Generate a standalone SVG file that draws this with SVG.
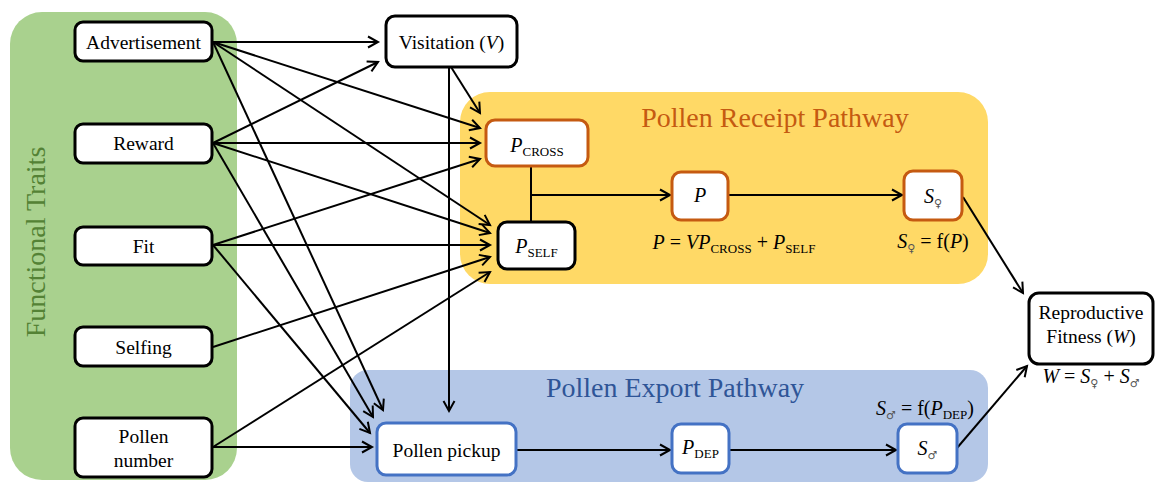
<svg xmlns="http://www.w3.org/2000/svg" width="1157" height="483" viewBox="0 0 1157 483" font-family="'Liberation Serif', 'DejaVu Serif', serif">
  <defs>
    <marker id="arrow" markerUnits="userSpaceOnUse" markerWidth="16" markerHeight="16" viewBox="-13 -8 16 16" refX="0" refY="0" orient="auto">
      <path d="M-10,-5.5 L0,0 L-10,5.5" fill="none" stroke="#000" stroke-width="2" stroke-linejoin="miter"/>
    </marker>
    <style>
      text { font-family: 'Liberation Serif', 'DejaVu Serif', serif; fill: #000; }
      .lbl { font-size: 19.5px; text-anchor: middle; }
      .math { font-size: 20px; text-anchor: middle; }
      .it { font-style: italic; }
      .sub { font-size: 13px; }
      .sym { font-family: 'DejaVu Sans', sans-serif; font-size: 11px; fill: #555; }
      .title { font-size: 28px; text-anchor: middle; }
      .box { fill: #fff; stroke: #000; stroke-width: 3; }
      .box-or { fill: #fff; stroke: #C55A11; stroke-width: 3; }
      .box-bl { fill: #fff; stroke: #4472C4; stroke-width: 3; }
      .edge { fill: none; stroke: #000; stroke-width: 2; }
      .arr { marker-end: url(#arrow); }
    </style>
  </defs>

  <!-- background panels -->
  <g id="panels">
    <rect x="10" y="12" width="227" height="468" rx="32" fill="#A9D18E"/>
    <rect x="460" y="92" width="528" height="192" rx="30" fill="#FFD966"/>
    <rect x="350" y="370" width="638" height="112" rx="18" fill="#B4C7E7"/>
    <text class="title" transform="translate(45,242) rotate(-90)" style="fill:#548235">Functional Traits</text>
    <text class="title" x="775" y="127" style="fill:#C55A11">Pollen Receipt Pathway</text>
    <text class="title" x="675" y="397" style="fill:#2F5597">Pollen Export Pathway</text>
  </g>

  <!-- connectors -->
  <g id="connectors">
    <!-- Advertisement -->
    <line class="edge arr" x1="213" y1="42" x2="378" y2="42"/>
    <line class="edge arr" x1="213" y1="42" x2="480" y2="128"/>
    <line class="edge arr" x1="213" y1="42" x2="490" y2="225"/>
    <line class="edge arr" x1="213" y1="42" x2="383" y2="410"/>
    <!-- Reward -->
    <line class="edge arr" x1="213" y1="143" x2="378" y2="62"/>
    <line class="edge arr" x1="213" y1="143" x2="480" y2="143"/>
    <line class="edge arr" x1="213" y1="143" x2="490" y2="233"/>
    <line class="edge arr" x1="213" y1="143" x2="373" y2="417"/>
    <!-- Fit -->
    <line class="edge arr" x1="213" y1="245" x2="480" y2="159"/>
    <line class="edge arr" x1="213" y1="245" x2="490" y2="245"/>
    <line class="edge arr" x1="213" y1="245" x2="370" y2="433"/>
    <!-- Selfing -->
    <line class="edge arr" x1="213" y1="347" x2="490" y2="257"/>
    <!-- Pollen number -->
    <line class="edge arr" x1="213" y1="447" x2="490" y2="272"/>
    <line class="edge arr" x1="213" y1="447" x2="372" y2="447"/>
    <!-- Visitation -->
    <line class="edge arr" x1="451" y1="67" x2="480" y2="113"/>
    <line class="edge arr" x1="449" y1="67" x2="449" y2="411"/>
    <!-- receipt pathway -->
    <line class="edge" x1="531" y1="166" x2="531" y2="222"/>
    <line class="edge arr" x1="531" y1="195" x2="670" y2="195"/>
    <line class="edge arr" x1="729" y1="195" x2="902" y2="195"/>
    <line class="edge arr" x1="963" y1="197" x2="1023" y2="293"/>
    <!-- export pathway -->
    <line class="edge arr" x1="517" y1="450" x2="670" y2="450"/>
    <line class="edge arr" x1="730" y1="450" x2="896" y2="450"/>
    <line class="edge arr" x1="957" y1="448" x2="1027" y2="366"/>
  </g>

  <!-- trait nodes -->
  <g id="advertisement">
    <rect class="box" x="75" y="22" width="137" height="39" rx="8"/>
    <text class="lbl" x="143.5" y="49">Advertisement</text>
  </g>
  <g id="reward">
    <rect class="box" x="75" y="124" width="137" height="39" rx="8"/>
    <text class="lbl" x="143.5" y="150">Reward</text>
  </g>
  <g id="fit">
    <rect class="box" x="75" y="227" width="137" height="38" rx="8"/>
    <text class="lbl" x="143.5" y="253">Fit</text>
  </g>
  <g id="selfing">
    <rect class="box" x="75" y="327" width="137" height="39" rx="8"/>
    <text class="lbl" x="143.5" y="354">Selfing</text>
  </g>
  <g id="pollen-number">
    <rect class="box" x="75" y="418" width="137" height="59" rx="8"/>
    <text class="lbl" x="143.5" y="443">Pollen</text>
    <text class="lbl" x="143.5" y="467">number</text>
  </g>

  <!-- visitation -->
  <g id="visitation">
    <rect class="box" x="386" y="16" width="131" height="51" rx="9"/>
    <text class="lbl" x="451.5" y="49">Visitation (<tspan class="it">V</tspan>)</text>
  </g>

  <!-- pollen receipt pathway -->
  <g id="p-cross">
    <rect class="box-or" x="486" y="120" width="102" height="46" rx="9"/>
    <text class="math" x="537" y="152"><tspan class="it">P</tspan><tspan class="sub" dy="4">CROSS</tspan></text>
  </g>
  <g id="p-self">
    <rect class="box" x="498" y="222" width="77" height="47" rx="9"/>
    <text class="math" x="536.5" y="253"><tspan class="it">P</tspan><tspan class="sub" dy="4">SELF</tspan></text>
  </g>
  <g id="p">
    <rect class="box-or" x="672" y="172" width="56" height="48" rx="9"/>
    <text class="math it" x="700" y="202">P</text>
    <text class="math" x="734" y="249"><tspan class="it">P</tspan> = <tspan class="it">VP</tspan><tspan class="sub" dy="4">CROSS</tspan><tspan dy="-4"> + </tspan><tspan class="it">P</tspan><tspan class="sub" dy="4">SELF</tspan></text>
  </g>
  <g id="s-female">
    <rect class="box-or" x="904" y="171" width="58" height="49" rx="9"/>
    <text class="math" x="933" y="203"><tspan class="it">S</tspan><tspan class="sym" dy="4">♀</tspan></text>
    <text class="math" x="933" y="248"><tspan class="it">S</tspan><tspan class="sym" dy="4">♀</tspan><tspan dy="-4"> = f(</tspan><tspan class="it">P</tspan>)</text>
  </g>

  <!-- pollen export pathway -->
  <g id="pollen-pickup">
    <rect class="box-bl" x="377" y="423" width="139" height="52" rx="9"/>
    <text class="lbl" x="446.5" y="457">Pollen pickup</text>
  </g>
  <g id="p-dep">
    <rect class="box-bl" x="672" y="424" width="57" height="49" rx="9"/>
    <text class="math" x="700.5" y="454"><tspan class="it">P</tspan><tspan class="sub" dy="4">DEP</tspan></text>
  </g>
  <g id="s-male">
    <rect class="box-bl" x="898" y="424" width="59" height="49" rx="9"/>
    <text class="math" x="927.5" y="455"><tspan class="it">S</tspan><tspan class="sym" dy="4">♂</tspan></text>
    <text class="math" x="925" y="415"><tspan class="it">S</tspan><tspan class="sym" dy="4">♂</tspan><tspan dy="-4"> = f(</tspan><tspan class="it">P</tspan><tspan class="sub" dy="4">DEP</tspan><tspan dy="-4">)</tspan></text>
  </g>

  <!-- fitness -->
  <g id="reproductive-fitness">
    <rect class="box" x="1029" y="293" width="124" height="71" rx="10"/>
    <text class="lbl" x="1091" y="319">Reproductive</text>
    <text class="lbl" x="1091" y="343">Fitness (<tspan class="it">W</tspan>)</text>
    <text class="math" x="1091" y="383"><tspan class="it">W</tspan> = <tspan class="it">S</tspan><tspan class="sym" dy="4">♀</tspan><tspan dy="-4"> + </tspan><tspan class="it">S</tspan><tspan class="sym" dy="4">♂</tspan></text>
  </g>
</svg>
